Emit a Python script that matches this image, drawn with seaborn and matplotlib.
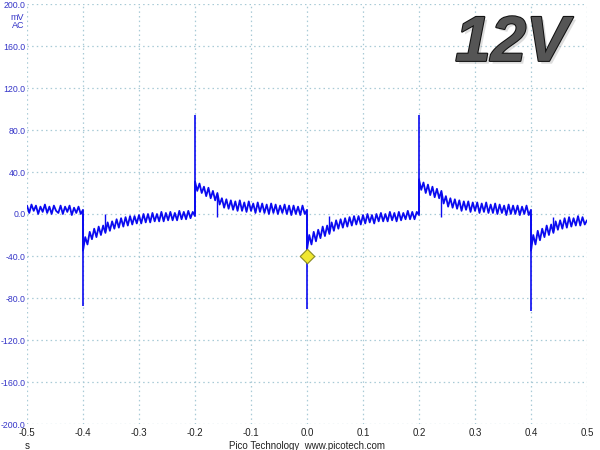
import numpy as np
import pandas as pd
import seaborn as sns
import matplotlib.pyplot as plt
import matplotlib.patheffects as pe

# trace samples, 4 ms apart, one list per half period (mV)
seg_a = [8, 1, 9, 3, 8, 0, 7, 2, 9, 1, 7, 0, 8, 3, 1, 8, 0, 7, 2, 8, -1, 6, 1, 7, 0, 4]
seg_b = [-35, -22, -29, -17, -24, -14, -22, -12, -20, -11, -18, -8, -16, -7, -14, -5, -13,
         -4, -12, -3, -11, -2, -10, -2, -9, -1, -9, 0, -8, 0, -8, 1, -7, 0, -7, 2, -7,
         1, -6, 2, -6, 1, -6, 3, -5, 2, -5, 3, -4, 2, -2]
seg_c = [31, 22, 29, 20, 26, 17, 25, 15, 22, 13, 20, 9, 15, 6, 14, 5, 13, 4, 12, 3, 13,
         3, 11, 2, 12, 3, 10, 1, 11, 2, 10, 1, 9, 0, 10, 1, 9, 0, 8, 1, 9, 0, 8, -1, 8,
         0, 7, -1, 8, 0, 4]
seg_d = [-34, -20, -29, -17, -26, -15, -23, -12, -21, -11, -19, -8, -16, -6, -14, -5, -13,
         -4, -12, -3, -11, -2, -10, -2, -10, -1, -9, 0, -8, -1, -9, 0, -7, 1, -7, 0, -7,
         2, -6, 1, -7, 2, -6, 1, -5, 3, -5, 2, -5, 2, -1]
seg_e = [33, 23, 30, 20, 28, 18, 26, 16, 24, 15, 22, 10, 17, 7, 15, 6, 14, 5, 13, 3, 12,
         4, 12, 2, 11, 3, 11, 1, 10, 2, 11, 1, 9, 1, 10, 0, 9, 1, 8, -1, 9, 0, 8, 0, 8,
         -1, 7, 0, 8, -1, 4]
seg_f = [-35, -20, -29, -16, -25, -14, -22, -11, -20, -10, -18, -7, -15, -6, -14, -4, -13,
         -3, -12, -4, -11, -2, -11, -3, -10, -6]
seg_start = [-0.5, -0.4, -0.2, 0.0, 0.2, 0.4]
dt = 0.004

# switching spikes and small glitches
spike_t = [-0.4, -0.2, 0.0, 0.2, 0.4]
spike_peak = [-88, 94, -90, 94, -92]
glitch_t = [-0.36, -0.16, 0.04, 0.24, 0.44]
glitch_base = [-16, 18, -17, 20, -16]
glitch_peak = [0, -3, -2, -3, -3]

trigger_t = [0.0]
trigger_v = [-40]

x_ticks = [-0.5, -0.4, -0.3, -0.2, -0.1, 0.0, 0.1, 0.2, 0.3, 0.4, 0.5]
y_ticks = [200, 160, 120, 80, 40, 0, -40, -80, -120, -160, -200]

rows = []
for start, seg in zip(seg_start, [seg_a, seg_b, seg_c, seg_d, seg_e, seg_f]):
    for i, v in enumerate(seg):
        rows.append((start + i * dt, v))
df = pd.DataFrame(rows, columns=['t', 'mV'])

sns.set_style('white')
plt.rcParams['font.family'] = ['Liberation Sans', 'DejaVu Sans']

fig = plt.figure(figsize=(6, 4.5), dpi=100)
ax = fig.add_axes([27 / 600, 1 - 424 / 450, 560 / 600, 420 / 450])

trace = '#0a0af0'
sns.lineplot(data=df, x='t', y='mV', sort=False, estimator=None, color=trace, lw=1.3, ax=ax)
ax.vlines(spike_t, 0, spike_peak, color=trace, lw=1.2)
ax.vlines(glitch_t, glitch_base, glitch_peak, color=trace, lw=1.0)
sns.scatterplot(x=trigger_t, y=trigger_v, marker='D', s=55, color='#f0e830',
                edgecolor='#8a8a20', linewidth=0.8, ax=ax, zorder=5)

ax.set_xlim(-0.5, 0.5)
ax.set_ylim(-200, 200)
ax.set_xticks(x_ticks)
ax.set_yticks(y_ticks)
ax.set_xticklabels(['%.1f' % v for v in x_ticks], fontsize=7, color='#222222')
ax.set_yticklabels(['%.1f' % v for v in y_ticks], fontsize=6.3, color='#3535c8')
ax.tick_params(axis='x', length=0, pad=3)
ax.tick_params(axis='y', length=0, pad=1.2)
ax.set_xlabel('')
ax.set_ylabel('')
ax.grid(True, ls=(0, (1.2, 2.5)), color='#a8cad6', lw=0.9)
for s in ax.spines.values():
    s.set_visible(False)

fig.text(24 / 600, 1 - 17 / 450, 'mV', ha='right', va='center', fontsize=6.5, color='#3535c8')
fig.text(24 / 600, 1 - 26 / 450, 'AC', ha='right', va='center', fontsize=6.5, color='#3535c8')
fig.text(27 / 600, 1 - 446 / 450, 's', ha='center', va='center', fontsize=7, color='#222222')
fig.text(307 / 600, 1 - 446 / 450, 'Pico Technology  www.picotech.com', ha='center',
         va='center', fontsize=7, color='#222222')

ax.text(0.866, 0.905, '12V', transform=ax.transAxes, ha='center', va='center',
        fontsize=46, fontweight='bold', fontstyle='italic', color='#555555',
        path_effects=[pe.withSimplePatchShadow(offset=(2, -2), shadow_rgbFace='#aaaaaa', alpha=0.4),
                      pe.Stroke(linewidth=1.5, foreground='#111111'), pe.Normal()])

fig.savefig('out.png', dpi=100)
